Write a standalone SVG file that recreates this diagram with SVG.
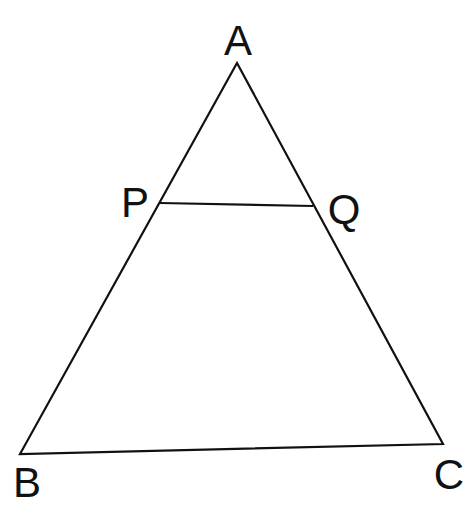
<svg xmlns="http://www.w3.org/2000/svg" width="474" height="513" viewBox="0 0 474 513">
<style>
.ln{stroke:#111;stroke-width:2.2;fill:none;stroke-linejoin:miter}
.lb{font-family:"Liberation Sans",Arial,sans-serif;font-size:42px;fill:#111;text-anchor:middle}
</style>
<rect width="474" height="513" fill="#fff"/>
<g id="connectors">
<polygon class="ln" points="237,63 20,454 443,444"/>
<line class="ln" x1="160" y1="203" x2="313" y2="206"/>
</g>
<g id="A"><text class="lb" x="238" y="55">A</text></g>
<g id="P"><text class="lb" x="135" y="217">P</text></g>
<g id="Q"><text class="lb" x="344" y="224">Q</text></g>
<g id="B"><text class="lb" x="27" y="497">B</text></g>
<g id="C"><text class="lb" x="449" y="489">C</text></g>
</svg>
